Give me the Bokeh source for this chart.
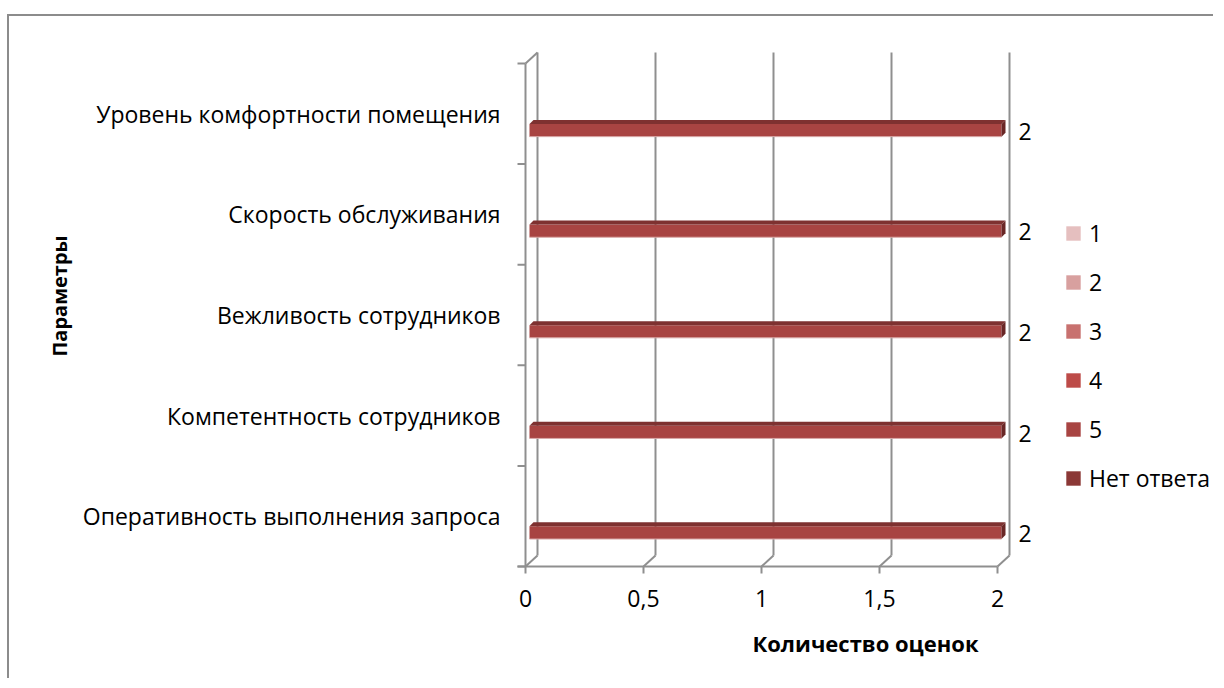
from bokeh.plotting import figure
from bokeh.models import Range1d, FixedTicker, Legend, LegendItem, ColumnDataSource
from bokeh.core.properties import value
from bokeh.embed import file_html
from bokeh.resources import INLINE

# ---------------- data ----------------
categories = ["Оперативность выполнения запроса", "Компетентность сотрудников",
              "Вежливость сотрудников", "Скорость обслуживания",
              "Уровень комфортности помещения"]
series_names = ["1", "2", "3", "4", "5", "Нет ответа"]
s_1 = [0, 0, 0, 0, 0]
s_2 = [0, 0, 0, 0, 0]
s_3 = [0, 0, 0, 0, 0]
s_4 = [0, 0, 0, 0, 0]
s_5 = [2, 2, 2, 2, 2]
s_none = [0, 0, 0, 0, 0]
x_ticks = [0, 0.5, 1, 1.5, 2]
x_tick_labels = ["0", "0,5", "1", "1,5", "2"]
x_title = "Количество оценок"
y_title = "Параметры"

# ---------------- style ----------------
FONT = "Open Sans"
FS = "23px"
series_values = [s_1, s_2, s_3, s_4, s_5, s_none]
series_colors = ["#E5BFBF", "#D8A09F", "#C8716F", "#BD4B48", "#A84442", "#8B3836"]
series_offsets = [0.36, 0.23, 0.10, -0.03, -0.164, -0.29]
BAR_H = 0.126
WALL = "#8F8F8F"
PX_X = 236.0     # px per x unit
PX_Y = 100.6     # px per category
WDX, WDY = 12 / PX_X, 11 / PX_Y     # wall depth
BDX, BDY = 4 / PX_X, 4 / PX_Y       # bar depth
n = len(categories)

p = figure(width=1206, height=664, output_backend="svg", toolbar_location=None,
           x_range=Range1d(-10 / PX_X, 690 / PX_X),
           y_range=Range1d(-9 / PX_Y, 550 / PX_Y),
           min_border_left=506, min_border_bottom=105, min_border_top=0, min_border_right=0)
p.styles = {"border-left": "2px solid #8c8c8c", "border-top": "2px solid #8c8c8c",
            "margin-top": "14px", "margin-left": "7px"}
p.outline_line_color = None
p.xgrid.visible = False
p.ygrid.visible = False

# axes
for ax in (p.xaxis[0], p.yaxis[0]):
    ax.axis_line_color = None
    ax.major_tick_line_color = None
    ax.minor_tick_line_color = None
    ax.major_tick_out = 0
    ax.major_tick_in = 0
    ax.major_label_text_font = FONT
    ax.major_label_text_font_size = FS
    ax.major_label_text_color = "#000000"
    ax.axis_label_text_font = FONT
    ax.axis_label_text_font_style = "bold"
    ax.axis_label_text_color = "#000000"

p.xaxis.ticker = FixedTicker(ticks=x_ticks)
p.xaxis.major_label_overrides = {t: l for t, l in zip(x_ticks, x_tick_labels)}
p.xaxis.major_label_standoff = 14
p.xaxis.axis_label = x_title
p.xaxis.axis_label_standoff = 18
p.xaxis.axis_label_text_font_size = "22px"

cat_centers = [i + 0.5 for i in range(n)]
p.yaxis.ticker = FixedTicker(ticks=cat_centers)
p.yaxis.major_label_overrides = {c: name for c, name in zip(cat_centers, categories)}
p.yaxis.major_label_standoff = 15
p.yaxis.axis_label = y_title
p.yaxis.axis_label_standoff = 7
p.yaxis.axis_label_text_font_size = "20px"

# ---------------- 3D walls ----------------
xs, ys = [], []
for t in x_ticks:
    xs.append([t + WDX, t + WDX]); ys.append([WDY, n + WDY])
    xs.append([t, t + WDX]); ys.append([0, WDY])
    xs.append([t, t]); ys.append([0, -7 / PX_Y])
xs.append([-8 / PX_X, x_ticks[-1]]); ys.append([0, 0])
xs.append([0, 0]); ys.append([0, n])
xs.append([0, WDX]); ys.append([n, n + WDY])
for i in range(n + 1):
    xs.append([-8 / PX_X, 0]); ys.append([i, i])
p.multi_line(xs, ys, line_color=WALL, line_width=2)

# ---------------- bars ----------------
legend_items = []
for name, vals, col, off in zip(series_names, series_values, series_colors, series_offsets):
    yc = [c + off for c in cat_centers]
    src = ColumnDataSource(dict(y=yc, left=[BDX] * n, right=[v + BDX for v in vals]))
    r = p.hbar(y="y", left="left", right="right", height=BAR_H, source=src,
               fill_color=col, line_color=None)
    legend_items.append(LegendItem(label=name, renderers=[r]))
    shown = [(v, y) for v, y in zip(vals, yc) if v > 0]
    if shown:
        top_x, top_y, cap_x, cap_y = [], [], [], []
        for v, y in shown:
            yt, yb = y + BAR_H / 2, y - BAR_H / 2
            top_x.append([BDX, v + BDX, v + 2 * BDX, 2 * BDX])
            top_y.append([yt, yt, yt + BDY, yt + BDY])
            cap_x.append([v + BDX, v + BDX, v + 2 * BDX, v + 2 * BDX])
            cap_y.append([yb, yt, yt + BDY, yb + BDY])
        p.patches(top_x, top_y, fill_color="#7E3130", line_color=None)
        p.patches(cap_x, cap_y, fill_color="#6A2726", line_color=None)
        p.segment(x0=[BDX] * len(shown), y0=[y - BAR_H / 2 for _, y in shown],
                  x1=[v + BDX for v, _ in shown], y1=[y - BAR_H / 2 for _, y in shown],
                  line_color="#D9AAA9", line_width=1)
        p.text(x=[v + 0.089 for v, _ in shown], y=[y - 0.01 for _, y in shown],
               text=[str(v) for v, _ in shown], text_font=value(FONT),
               text_font_size=FS, text_align="left", text_baseline="middle",
               text_color="#000000")

legend = Legend(items=legend_items, location=(549, 81), orientation="vertical",
                glyph_width=18, glyph_height=18, label_height=14, spacing=17,
                label_standoff=7, padding=0, margin=0,
                border_line_color=None, background_fill_alpha=0,
                label_text_font=FONT, label_text_font_size=FS,
                label_text_color="#000000", label_text_baseline="middle")
p.add_layout(legend)

open("out.html", "w").write(file_html(p, INLINE))
